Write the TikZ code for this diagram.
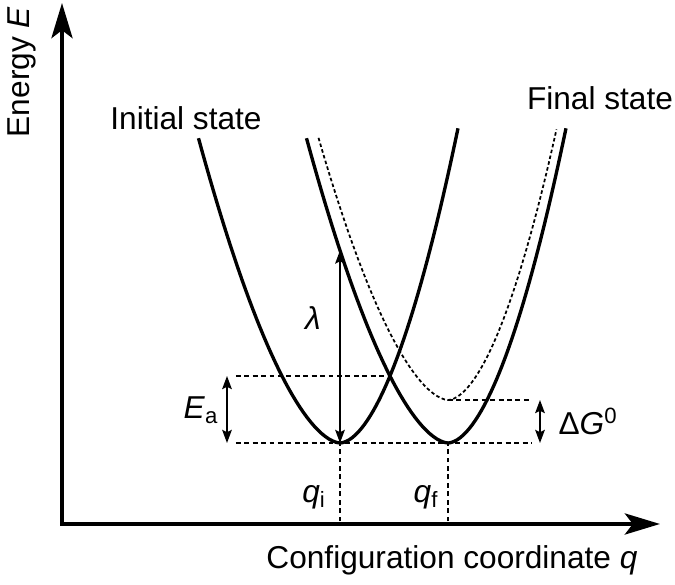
\documentclass[tikz,border=0pt]{standalone}
\usepackage{fontspec}
\setmainfont{Liberation Sans}
\usetikzlibrary{arrows.meta}

\begin{document}
\begin{tikzpicture}[
        font=\fontsize{18}{21.5}\selectfont,
        axis/.style={line width=2.2pt, line join=miter,
            {Stealth[length=20pt, width=12pt, inset=4.5pt]}-{Stealth[length=20pt, width=12pt, inset=4.5pt]}},
        curve/.style={line width=1.9pt},
        shifted/.style={line width=1pt, dash pattern=on 2pt off 1.4pt},
        guide/.style={line width=0.8pt, dash pattern=on 2.8pt off 2pt},
        span/.style={line width=1pt,
            {Stealth[length=7.5pt, width=5.5pt, inset=1.4pt]}-{Stealth[length=7.5pt, width=5.5pt, inset=1.4pt]}}
    ]
    \useasboundingbox (-1.24, -1.22) rectangle (12.26, 10.48);

    % points
    \coordinate (O) at (0, 0);
    \coordinate (ytip) at (0, 10.42);
    \coordinate (xtip) at (11.96, 0);
    \coordinate (mini) at (5.56, 1.62);
    \coordinate (minf) at (7.72, 1.62);
    \coordinate (mind) at (7.72, 2.48);
    \coordinate (cross) at (6.56, 2.96);
    \coordinate (lamtop) at (5.56, 5.47);
    \coordinate (eabot) at (3.30, 1.62);
    \coordinate (eatop) at (3.30, 2.96);
    \coordinate (dgbot) at (9.56, 1.62);
    \coordinate (dgtop) at (9.56, 2.48);
    \coordinate (qi) at (5.56, 0.05);
    \coordinate (qf) at (7.72, 0.05);

    % axes
    \draw
        [axis]
        (ytip) -- (O) -- (xtip);
    \node[rotate=90] (energy) at (-0.80, 9.04) {Energy \textit{E}};
    \node (config) at (7.80, -0.72) {Configuration coordinate \textit{q}};

    % potential curves
    \draw
        [curve, shift={(mini)}]
        plot[domain=-2.83:-0.005, samples=40] (\x, {1.04*abs(\x)^1.7})
        -- plot[domain=0.005:2.36, samples=40] (\x, {1.342*\x^1.8});
    \draw
        [curve, shift={(minf)}]
        plot[domain=-2.83:-0.005, samples=40] (\x, {1.04*abs(\x)^1.7})
        -- plot[domain=0.005:2.36, samples=40] (\x, {1.342*\x^1.8});
    \draw
        [shifted, shift={(mind)}]
        plot[domain=-2.59:-0.005, samples=40] (\x, {1.04*abs(\x)^1.7})
        -- plot[domain=0.005:2.17, samples=40] (\x, {1.342*\x^1.8});
    \node (initial) at (2.48, 8.12) {Initial state};
    \node (final) at (10.76, 8.52) {Final state};

    % guide lines
    \draw[guide] ([xshift=5pt]eatop) -- (cross);
    \draw[guide] ([xshift=5pt]eabot) -- ([xshift=-5pt]dgbot);
    \draw[guide] (mind) -- ([xshift=-5pt]dgtop);
    \draw[guide] (qi) -- (mini);
    \draw[guide] (qf) -- (minf);

    % energies
    \draw[span] (mini) -- (lamtop);
    \draw[span] (eabot) -- (eatop);
    \draw[span] (dgbot) -- (dgtop);
    \node (lambda) at (5.02, 4.12) {\textit{λ}};
    \node (ea) at (2.78, 2.28) {\textit{E}\textsubscript{a}};
    \node (dg) at (10.52, 2.06) {Δ\textit{G}\textsuperscript{0}};
    \node (qilbl) at (5.04, 0.54) {\textit{q}\textsubscript{i}};
    \node (qflbl) at (7.28, 0.54) {\textit{q}\textsubscript{f}};
\end{tikzpicture}
\end{document}
